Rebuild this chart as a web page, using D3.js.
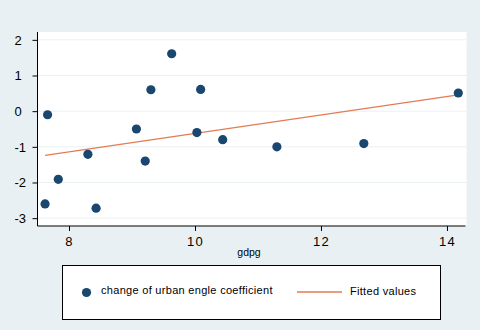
<!DOCTYPE html>
<html>
<head>
<meta charset="utf-8">
<script src="https://cdn.jsdelivr.net/npm/d3@7"></script>
<style>
  html, body { margin: 0; padding: 0; background: #e9f0f3; }
  svg { display: block; }
  text { font-family: "Liberation Sans", Arial, sans-serif; fill: #000; }
</style>
</head>
<body>
<svg id="chart" width="480" height="330"></svg>
<script>
// GDP growth (gdpg) and change of the urban Engel coefficient
const gdpg = [7.62, 7.66, 7.83, 8.30, 8.43, 9.07, 9.21, 9.30, 9.63, 10.09, 10.03, 10.44, 11.30, 12.68, 14.18];
const engelChange = [-2.60, -0.10, -1.91, -1.21, -2.72, -0.50, -1.40, 0.60, 1.61, 0.61, -0.60, -0.80, -1.00, -0.91, 0.51];
const xTicks = [8, 10, 12, 14];
const yTicks = [2, 1, 0, -1, -2, -3];
const seriesLabels = ["change of urban engle coefficient", "Fitted values"];

const points = gdpg.map((x, i) => ({ x, y: engelChange[i] }));

// Ordinary least squares fit for the "Fitted values" line
const mx = d3.mean(gdpg), my = d3.mean(engelChange);
const slope = d3.sum(points, p => (p.x - mx) * (p.y - my)) / d3.sum(points, p => (p.x - mx) ** 2);
const intercept = my - slope * mx;
const [xMin, xMax] = d3.extent(gdpg);
const fitted = [xMin, xMax].map(x => ({ x, y: intercept + slope * x }));

const svg = d3.select("#chart");
const plot = { left: 37.5, right: 466.5, top: 32, bottom: 226 };

const x = d3.scaleLinear().domain([7.5, 14.31]).range([plot.left, plot.right]);
const y = d3.scaleLinear().domain([-3.22, 2.22]).range([plot.bottom, plot.top]);

// plot region
svg.append("rect")
  .attr("x", plot.left).attr("y", plot.top)
  .attr("width", plot.right - plot.left).attr("height", plot.bottom - plot.top)
  .attr("fill", "#ffffff");

// horizontal grid lines
svg.append("g").selectAll("line").data(yTicks).join("line")
  .attr("x1", plot.left).attr("x2", plot.right)
  .attr("y1", d => y(d)).attr("y2", d => y(d))
  .attr("stroke", "#eaf0f2").attr("stroke-width", 1);

// fitted line
svg.append("path")
  .datum(fitted)
  .attr("d", d3.line().x(d => x(d.x)).y(d => y(d.y)))
  .attr("fill", "none").attr("stroke", "#e57b55").attr("stroke-width", 1.3);

// scatter points
svg.append("g").selectAll("circle").data(points).join("circle")
  .attr("cx", d => x(d.x)).attr("cy", d => y(d.y))
  .attr("r", 4.6).attr("fill", "#1a476f");

// axes
const yAxis = svg.append("g")
  .attr("transform", `translate(${plot.left},0)`)
  .call(d3.axisLeft(y).tickValues(yTicks).tickSize(5).tickFormat(d3.format("d")));
yAxis.select(".domain").attr("d", `M0,${plot.top}V${plot.bottom}`);
// tick labels share a common left edge
yAxis.selectAll(".tick text")
  .attr("x", 14.5 - plot.left).attr("text-anchor", "start")
  .attr("font-size", 13).attr("font-family", "Liberation Sans, Arial, sans-serif")
  .text(d => d < 0 ? "-" + Math.abs(d) : d);

const xAxis = svg.append("g")
  .attr("transform", `translate(0,${plot.bottom})`)
  .call(d3.axisBottom(x).tickValues(xTicks).tickSize(5).tickPadding(6).tickFormat(d3.format("d")));
xAxis.select(".domain").attr("d", `M${plot.left},0H${plot.right - 1}`);
xAxis.selectAll("text").attr("font-size", 13).attr("font-family", "Liberation Sans, Arial, sans-serif")
  .attr("letter-spacing", 1.2);

// axis title
svg.append("text")
  .attr("x", 249).attr("y", 256)
  .attr("text-anchor", "middle").attr("font-size", 10.5)
  .text("gdpg");

// legend
const legend = svg.append("g");
legend.append("rect")
  .attr("x", 62.5).attr("y", 265.5).attr("width", 378).attr("height", 54)
  .attr("fill", "#ffffff").attr("stroke", "#000").attr("stroke-width", 1);
legend.append("circle")
  .attr("cx", 86.5).attr("cy", 292.5).attr("r", 4.6).attr("fill", "#1a476f");
legend.append("text")
  .attr("x", 101).attr("y", 294).attr("font-size", 11).attr("letter-spacing", 0.3)
  .text(seriesLabels[0]);
legend.append("line")
  .attr("x1", 297).attr("x2", 342).attr("y1", 292).attr("y2", 292)
  .attr("stroke", "#e57b55").attr("stroke-width", 1.3);
legend.append("text")
  .attr("x", 350).attr("y", 295).attr("font-size", 11).attr("letter-spacing", 0.3)
  .text(seriesLabels[1]);
</script>
</body>
</html>
